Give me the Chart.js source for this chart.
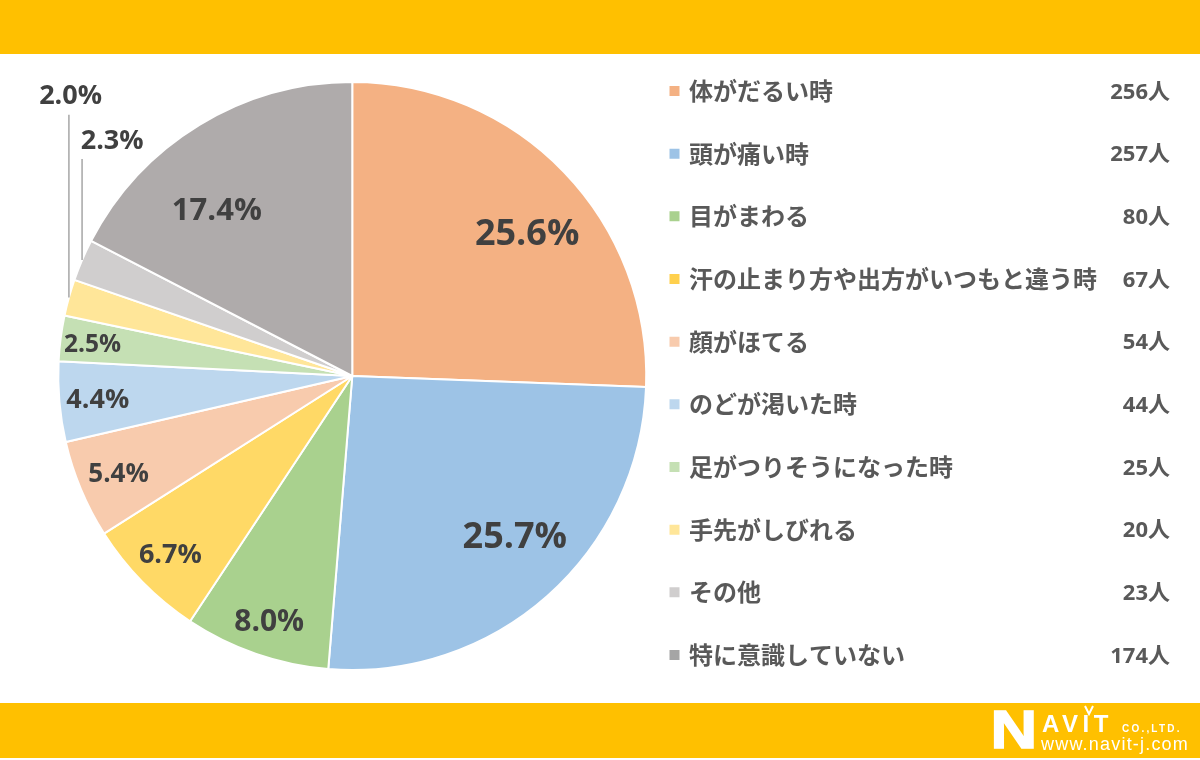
<!DOCTYPE html>
<html lang="ja"><head><meta charset="utf-8">
<style>html,body{margin:0;padding:0;background:#fff}#wrap{width:1200px;height:760px;position:relative}</style>
<script src="https://cdn.jsdelivr.net/npm/chart.js@4/dist/chart.umd.min.js"></script>
</head><body><div id="wrap"><canvas id="c" width="1200" height="760"></canvas></div>
<script>
const categories = ["体がだるい時","頭が痛い時","目がまわる","汗の止まり方や出方がいつもと違う時","顔がほてる","のどが渇いた時","足がつりそうになった時","手先がしびれる","その他","特に意識していない"];
const counts = [256,257,80,67,54,44,25,20,23,174];
const percentLabels = ["25.6%","25.7%","8.0%","6.7%","5.4%","4.4%","2.5%","2.0%","2.3%","17.4%"];
const countLabels = ["256人","257人","80人","67人","54人","44人","25人","20人","23人","174人"];
const sliceColors = ["#F4B183","#9DC3E6","#A9D18E","#FFD966","#F8CBAD","#BDD7EE","#C5E0B4","#FFE699","#D0CECE","#AFABAB"];
const legendColors = ["#F4B183","#9DC3E6","#A9D18E","#FFD04D","#F8CBAD","#BDD7EE","#C5E0B4","#FFE699","#D0CECE","#A5A5A5"];
const labelSizes = [36,36,30,27,26,27,24.5,27,27,31];
const labelOffsetX = [69,65,-35,-77,-98,-108,-114,-140,-105,-59];
const labelOffsetY = [-42,49,105,73,39,8,-15,-243,-180,-42];
const leaderSlices = [7,8];

const SANS = '"Open Sans","Noto Sans CJK JP",sans-serif';
const CJK = '"Noto Sans CJK JP",sans-serif';

const decor = {
  id:'decor',
  beforeDraw(chart){
    const c = chart.ctx; c.save();
    c.fillStyle='#fff'; c.fillRect(0,0,1200,760);
    c.fillStyle='#FFC000'; c.fillRect(0,0,1200,54); c.fillRect(0,703,1200,55);
    c.fillStyle='#fff'; c.strokeStyle='#fff'; c.textBaseline='alphabetic'; c.textAlign='left';
    c.save(); c.translate(993,748); c.scale(1.22,1);
    c.font='bold 53px "Liberation Sans"'; c.lineWidth=1.5; c.fillText('N',-2,0); c.strokeText('N',-2,0); c.restore();
    c.font='bold 24px "Liberation Sans"'; c.letterSpacing='4.5px'; c.fillText('AVIT',1042,732);
    c.font='bold 10px "Liberation Sans"'; c.letterSpacing='2.2px'; c.fillText('CO.,LTD.',1122,732);
    c.font='18px "Liberation Sans"'; c.letterSpacing='1.2px'; c.fillText('www.navit-j.com',1041,750);
    c.letterSpacing='0px';
    c.lineWidth=2; c.beginPath(); c.moveTo(1085,706); c.lineTo(1089,714); c.lineTo(1093,706); c.stroke();
    c.restore();
  },
  afterDraw(chart){
    const c = chart.ctx, arcs = chart.getDatasetMeta(0).data; c.save();
    c.strokeStyle='#A6A6A6'; c.lineWidth=1.5;
    leaderSlices.forEach(i=>{
      const a=arcs[i], mid=(a.startAngle+a.endAngle)/2;
      const ex=a.x+Math.cos(mid)*a.outerRadius, ey=a.y+Math.sin(mid)*a.outerRadius;
      const tp=a.tooltipPosition();
      c.beginPath(); c.moveTo(ex,tp.y+labelOffsetY[i]+21); c.lineTo(ex,ey); c.stroke();
    });
    c.fillStyle='#404040'; c.textAlign='center'; c.textBaseline='middle';
    arcs.forEach((a,i)=>{
      const tp=a.tooltipPosition();
      c.font=`bold ${labelSizes[i]}px ${SANS}`;
      c.fillText(percentLabels[i],tp.x+labelOffsetX[i],tp.y+labelOffsetY[i]+3);
    });
    c.fillStyle='#595959'; c.textAlign='right'; c.font=`bold 22px ${SANS}`;
    chart.legend.legendHitBoxes.forEach((h,i)=>{
      c.fillText(countLabels[i],1170,h.top+h.height/2+1.5);
    });
    c.restore();
  }
};

new Chart(document.getElementById('c'),{
  type:'pie',
  data:{labels:categories,datasets:[{data:counts,backgroundColor:sliceColors,borderColor:'#fff',borderWidth:2,clip:false}]},
  options:{
    responsive:false,animation:false,devicePixelRatio:1,
    radius:294,
    layout:{padding:{left:71.17,right:93,top:40.3,bottom:48.3}},
    plugins:{
      tooltip:{enabled:false},
      title:{display:false},
      legend:{
        position:'right',align:'start',
        labels:{
          boxWidth:5,boxHeight:5,padding:38.67,color:'#595959',
          font:{family:CJK,size:24,weight:'bold'},
          generateLabels(){return categories.map((text,i)=>({text,fillStyle:legendColors[i],strokeStyle:legendColors[i],lineWidth:5,index:i,hidden:false,fontColor:'#595959'}));}
        }
      }
    }
  },
  plugins:[decor]
});
</script></body></html>
